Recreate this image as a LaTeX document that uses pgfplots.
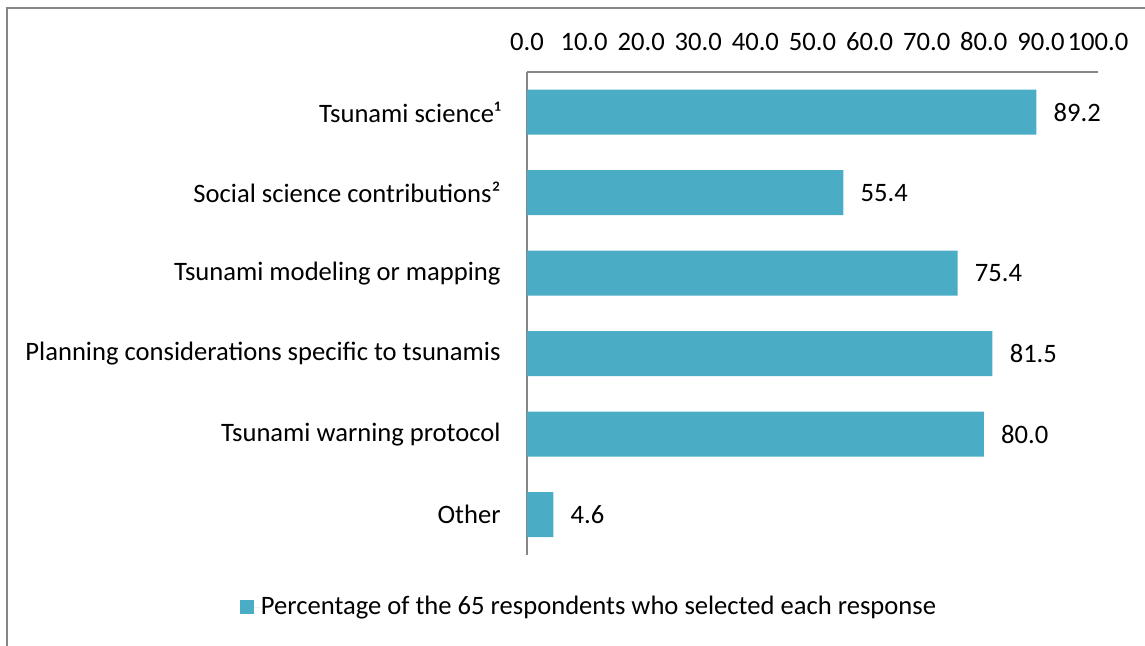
\documentclass[border=0pt]{standalone}
\usepackage{fontspec}
\setmainfont{Carlito}
\usepackage{pgfplots}
\pgfplotsset{compat=1.18}
\definecolor{barcol}{RGB}{75,172,198}
\definecolor{axgray}{RGB}{134,134,134}
\begin{document}
\fontsize{13.3}{16}\selectfont
\begin{tikzpicture}
\useasboundingbox (0,0) rectangle (572.5pt,-323pt);
\draw[axgray, line width=1pt] (3.5pt,-323pt) -- (3.5pt,-4pt) -- (572.5pt,-4pt);
\begin{axis}[
  at={(263.5pt,-36pt)}, anchor=north west,
  scale only axis, width=285.5pt, height=241.5pt,
  xbar, bar width=22.5pt,
  xmin=0, xmax=100, ymin=-0.5, ymax=5.5,
  axis x line=top, axis y line=left,
  axis line style={axgray, line width=1pt, -},
  xtick={0,10,...,100}, ytick={0,...,5},
  yticklabels={Other, Tsunami warning protocol, Planning considerations specific to tsunamis, Tsunami modeling or mapping, Social science contributions², Tsunami science¹},
  major tick length=0pt,
  tick style={draw=none},
  xticklabel style={anchor=center, yshift=15.25pt, text=black, /pgf/number format/.cd, fixed, fixed zerofill, precision=1, assume math mode=true},
  yticklabel style={anchor=east, inner sep=0pt, xshift=-13pt, text=black},
  point meta=x,
  nodes near coords,
  nodes near coords style={anchor=west, inner sep=0pt, xshift=8.5pt, text=black, /pgf/number format/.cd, fixed, fixed zerofill, precision=1, assume math mode=true},
  legend style={at={(axis description cs:0.1068,-0.1077)}, anchor=center, draw=none, fill=none, inner sep=0pt, nodes={inner sep=0pt, text=black}},
  legend image code/.code={\fill[barcol] (0pt,-3.5pt) rectangle (7pt,3.5pt); \path (0pt,0pt) -- (10.5pt,0pt);},
]
\addplot[fill=barcol, draw=none] coordinates {(4.6,0) (80.0,1) (81.5,2) (75.4,3) (55.4,4) (89.2,5)};
\addlegendentry{Percentage of the 65 respondents who selected each response}
\end{axis}
\end{tikzpicture}
\end{document}
